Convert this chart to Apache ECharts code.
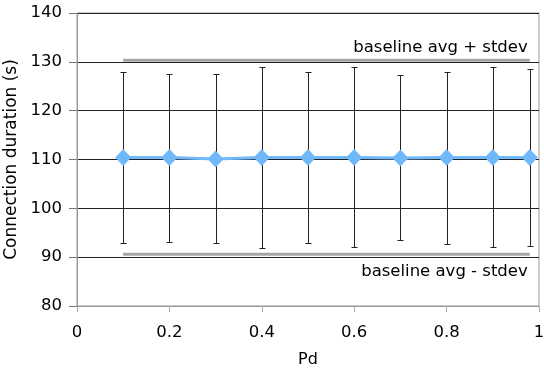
<!DOCTYPE html>
<html><head><meta charset="utf-8">
<script src="https://cdn.jsdelivr.net/npm/echarts@6/dist/echarts.min.js"></script>
<style>html,body{margin:0;padding:0;background:#fff}#c{width:544px;height:371px}</style>
</head><body><div id="c"></div>
<script>
const pd = [0.1, 0.2, 0.3, 0.4, 0.5, 0.6, 0.7, 0.8, 0.9, 0.98];
const meanDur = [110.4, 110.4, 110.1, 110.4, 110.4, 110.4, 110.3, 110.4, 110.4, 110.4];
const errHigh = [127.9, 127.6, 127.5, 128.9, 127.9, 128.9, 127.3, 128.0, 128.9, 128.5];
const errLow = [92.9, 93.2, 92.8, 91.8, 92.8, 92.0, 93.6, 92.7, 92.0, 92.2];
const baselineX = [0.1, 0.98];
const baselineHigh = 130.3;
const baselineLow = 90.6;
const labelHigh = 'baseline avg + stdev';
const labelLow = 'baseline avg - stdev';

const font = 'DejaVu Sans';
const chart = echarts.init(document.getElementById('c'));
chart.setOption({
  animation: false,
  backgroundColor: '#fff',
  textStyle: { fontFamily: font },
  grid: { left: 77, right: 5, top: 13, bottom: 65, containLabel: false, outerBoundsMode: 'none',
    show: true, borderColor: '#999', borderWidth: 1, backgroundColor: 'transparent' },
  xAxis: {
    type: 'value', min: 0, max: 1, interval: 0.2,
    name: 'Pd', nameLocation: 'middle', nameGap: 46,
    nameTextStyle: { fontFamily: font, fontSize: 16, color: '#000' },
    axisLine: { show: true, onZero: false, lineStyle: { color: '#999', width: 1 } },
    axisTick: { show: true, length: 6, lineStyle: { color: '#aaa' } },
    axisLabel: { fontFamily: font, fontSize: 16.5, color: '#000', margin: 18 },
    splitLine: { show: false }
  },
  yAxis: {
    type: 'value', min: 80, max: 140, interval: 10,
    name: 'Connection duration (s)', nameLocation: 'middle', nameGap: 53,
    nameTextStyle: { fontFamily: font, fontSize: 17, color: '#000' },
    axisLine: { show: true, lineStyle: { color: '#999', width: 1 } },
    axisTick: { show: true, length: 8, lineStyle: { color: '#777' } },
    axisLabel: { fontFamily: font, fontSize: 16.5, color: '#000', margin: 15 },
    splitLine: { show: true, lineStyle: { color: '#222', width: 1 } }
  },
  series: [
    {
      type: 'line', data: baselineX.map(x => [x, baselineHigh]), showSymbol: false, symbol: 'none',
      lineStyle: { color: '#a6a6a6', width: 3 }, z: 2, silent: true,
      endLabel: { show: true, formatter: labelHigh, fontFamily: font, fontSize: 16.5, color: '#000',
        distance: 0, align: 'right', verticalAlign: 'middle', offset: [-2, -13] }
    },
    {
      type: 'line', data: baselineX.map(x => [x, baselineLow]), showSymbol: false, symbol: 'none',
      lineStyle: { color: '#a6a6a6', width: 3 }, z: 2, silent: true,
      endLabel: { show: true, formatter: labelLow, fontFamily: font, fontSize: 16.5, color: '#000',
        distance: 0, align: 'right', verticalAlign: 'middle', offset: [-2, 17] }
    },
    {
      type: 'custom', z: 3,
      data: pd.map((x, i) => [x, errLow[i], errHigh[i]]),
      renderItem: function (params, api) {
        const x = api.value(0);
        const lo = api.coord([x, api.value(1)]);
        const hi = api.coord([x, api.value(2)]);
        const px = Math.round(lo[0]) + 0.5;
        const w = 3;
        const ly = Math.round(lo[1]) + 0.5, hy = Math.round(hi[1]) + 0.5;
        return {
          type: 'group',
          children: [
            { type: 'line', shape: { x1: px, y1: ly, x2: px, y2: hy }, style: { stroke: '#222', lineWidth: 1 } },
            { type: 'line', shape: { x1: px - w, y1: ly, x2: px + w, y2: ly }, style: { stroke: '#222', lineWidth: 1 } },
            { type: 'line', shape: { x1: px - w, y1: hy, x2: px + w, y2: hy }, style: { stroke: '#222', lineWidth: 1 } }
          ]
        };
      }
    },
    {
      type: 'line', z: 4,
      data: pd.map((x, i) => [x, meanDur[i]]),
      symbol: 'diamond', symbolSize: [16, 17], showSymbol: true,
      lineStyle: { color: '#6fb8fa', width: 3 },
      itemStyle: { color: '#6fb8fa' }
    }
  ]
});
</script></body></html>
